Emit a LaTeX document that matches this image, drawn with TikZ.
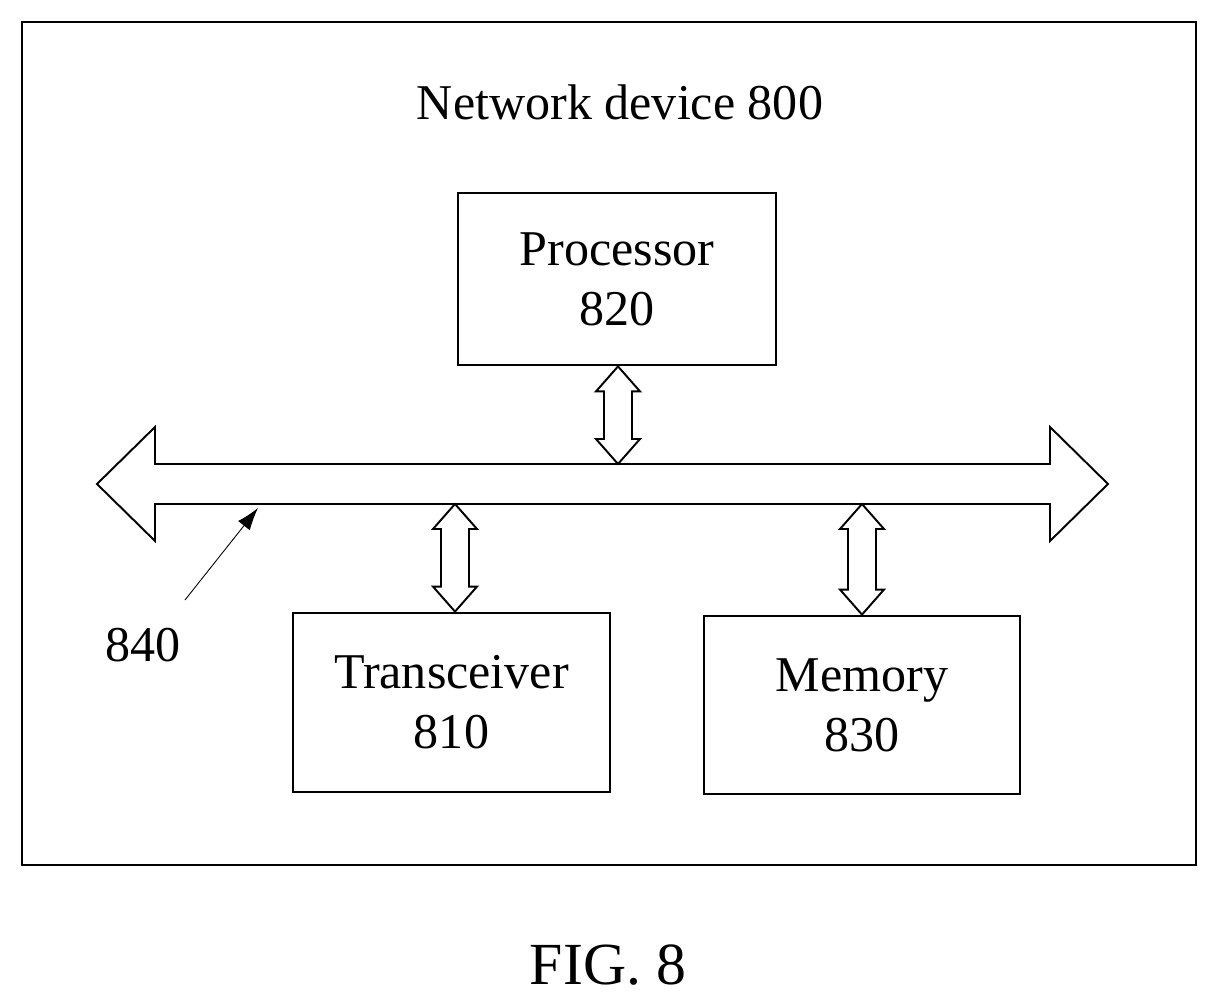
\documentclass[tikz,border=0pt]{standalone}
\usepackage{fontspec}
\setmainfont{Liberation Serif}
\usetikzlibrary{arrows.meta,calc,positioning}

% vertical hollow double arrow between two points (same x)
\newcommand{\vfatarrow}[2]{%
  \draw[fat] let \p1=(#1), \p2=(#2) in
    (\x1,\y1) -- (\x1+0.44cm,\y1-0.5cm) -- (\x1+0.28cm,\y1-0.5cm)
    -- (\x1+0.28cm,\y2+0.5cm) -- (\x1+0.44cm,\y2+0.5cm) -- (\x1,\y2)
    -- (\x1-0.44cm,\y2+0.5cm) -- (\x1-0.28cm,\y2+0.5cm)
    -- (\x1-0.28cm,\y1-0.5cm) -- (\x1-0.44cm,\y1-0.5cm) -- cycle;}

\begin{document}
\begin{tikzpicture}[
            >=latex,
            box/.style={draw, line width=1.6pt, align=center, font=\fontsize{28.5}{34}\selectfont},
            fat/.style={draw, line width=1.1pt, line join=miter, fill=white}
        ]
        \useasboundingbox (0,0) rectangle (24.32,20.08);
        \draw[line width=1.6pt] (0.44,2.78) rectangle (23.92,19.64);
        \node[font=\fontsize{28.5}{34}\selectfont] (title) at (12.4,18.04) {Network device 800};

        \node[box, minimum width=6.36cm, minimum height=3.44cm] (processor) at (12.34,14.5) {Processor\\820};
        \node[box, minimum width=6.34cm, minimum height=3.58cm] (transceiver) at (9.03,6.03) {Transceiver\\810};
        \node[box, minimum width=6.32cm, minimum height=3.56cm] (memory) at (17.24,5.98) {Memory\\830};

        % bus
        \coordinate (busL) at (1.94,10.4);
        \coordinate (busR) at (22.16,10.4);
        \draw[fat] (busL) -- ++(1.16,1.14) -- ++(0,-0.74) -- ($(busR)+(-1.16,0.4)$)
            -- ++(0,0.74) -- (busR) -- ++(-1.16,-1.14) -- ++(0,0.74)
            -- ($(busL)+(1.16,-0.4)$) -- ++(0,-0.74) -- cycle;

        \coordinate (procbus) at (12.36,10.8);
        \coordinate (transbus) at (9.1,10.0);
        \coordinate (membus) at (17.24,10.0);
        \vfatarrow{processor.south -| procbus}{procbus}
        \vfatarrow{transbus}{transceiver.north -| transbus}
        \vfatarrow{membus}{memory.north -| membus}

        \node[font=\fontsize{28.5}{34}\selectfont] (label) at (2.86,7.18) {840};
        \coordinate (bustip) at (5.16,9.92);
        \draw[->, line width=0.5pt, >={Latex[length=0.45cm,width=0.3cm]}] (3.7,8.08) -- (bustip);

        \node[font=\fontsize{34}{40}\selectfont] (fig) at (12.16,0.78) {FIG. 8};
    \end{tikzpicture}
\end{document}
